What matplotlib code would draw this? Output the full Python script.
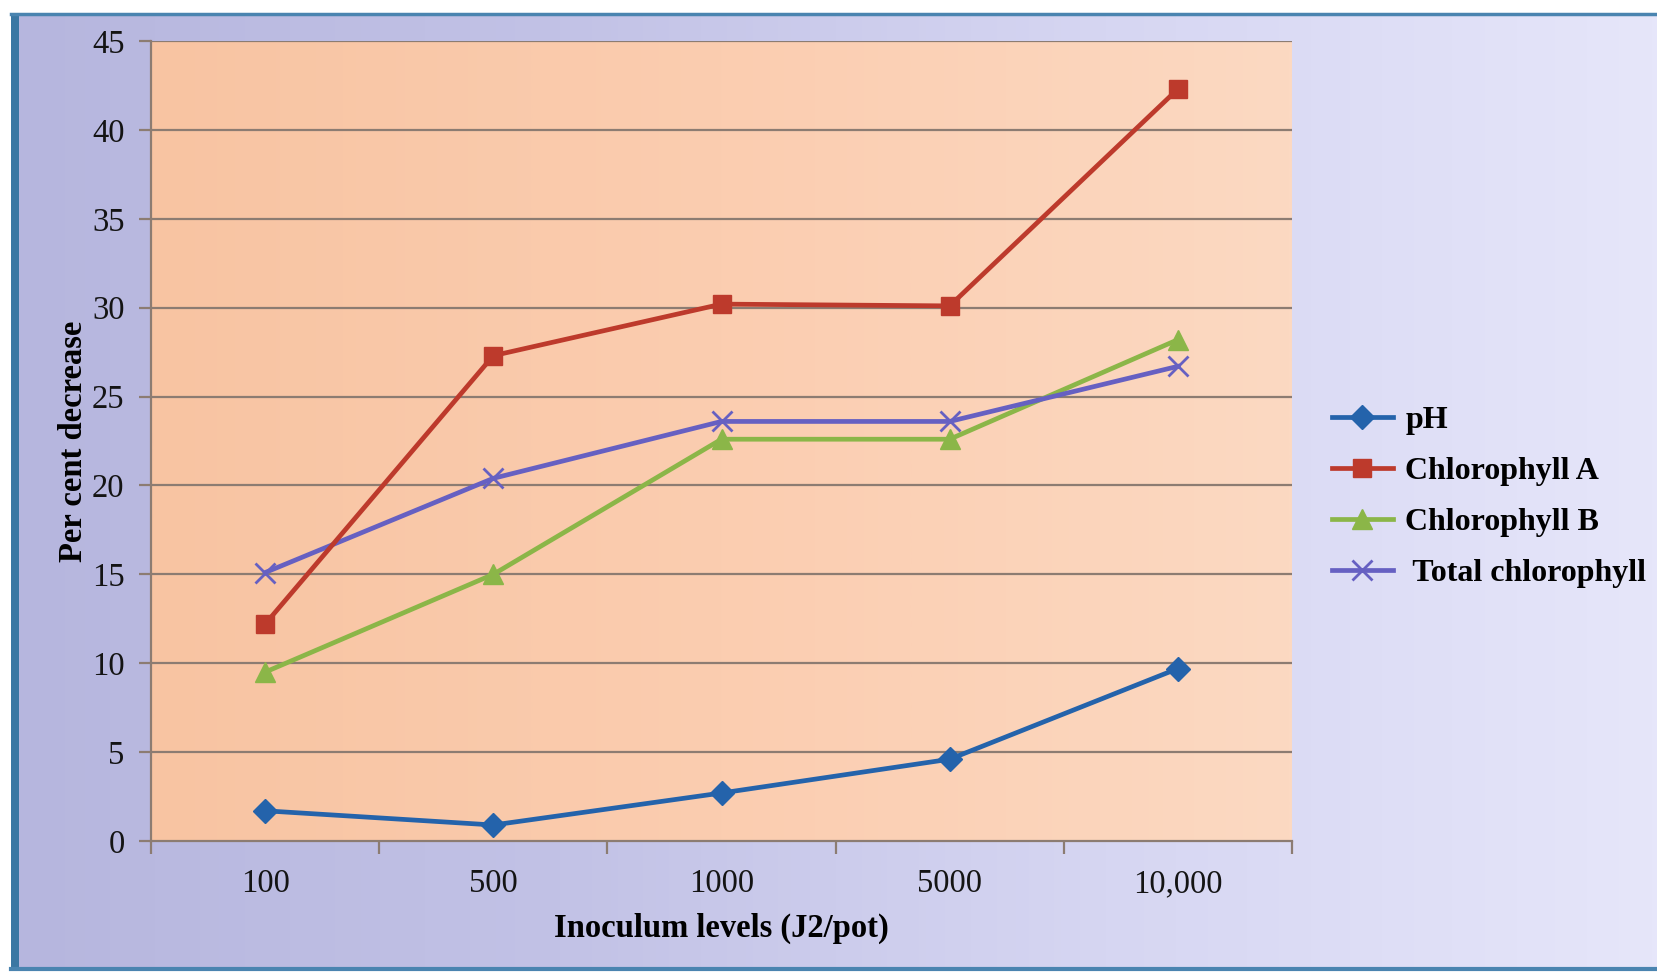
import numpy as np
import matplotlib.pyplot as plt
from matplotlib.patches import Rectangle
from matplotlib.colors import LinearSegmentedColormap

categories = ["100", "500", "1000", "5000", "10,000"]
ph = [1.7, 0.9, 2.7, 4.6, 9.7]
chlorophyll_a = [12.2, 27.3, 30.2, 30.1, 42.3]
chlorophyll_b = [9.5, 15.0, 22.6, 22.6, 28.2]
total_chlorophyll = [15.1, 20.4, 23.6, 23.6, 26.7]

plt.rcParams['font.family'] = ['Liberation Serif', 'DejaVu Serif']

W, H = 1658, 975
fig = plt.figure(figsize=(W / 100, H / 100), dpi=100)
fig.patch.set_facecolor('white')

# Lavender chart-area background with a left-to-right fade
bg = fig.add_axes([0, 0, 1, 1], zorder=0)
bg.set_xlim(0, W)
bg.set_ylim(H, 0)
bg.axis('off')
bg_cmap = LinearSegmentedColormap.from_list('bg', ['#b6b6de', '#c2c2e6', '#d6d6f2', '#e6e6fa'])
grad = np.linspace(0, 1, 512)[None, :]
bg.imshow(grad, cmap=bg_cmap, extent=[14, W, 969, 14], aspect='auto', zorder=1)
# frame lines
bg.add_patch(Rectangle((11, 14), 8, 956, facecolor='#3b77a3', edgecolor='none', zorder=2))
bg.plot([11, W], [14, 14], color='#4a84b0', lw=2.5, zorder=2)
bg.plot([11, W], [969, 969], color='#4a84b0', lw=3, zorder=2)

ax = fig.add_axes([151 / W, 1 - 841 / H, (1292 - 151) / W, (841 - 41) / H], zorder=2)
ax.set_xlim(0, 5)
ax.set_ylim(0, 45)

# Peach plot-area fill, slightly lighter to the right
pa_cmap = LinearSegmentedColormap.from_list('pa', ['#f8c4a2', '#fbcdb0', '#fcd9c2'])
ax.imshow(grad, cmap=pa_cmap, extent=[0, 5, 0, 45], aspect='auto', zorder=0)
ax.set_facecolor('none')

for y in range(5, 50, 5):
    ax.axhline(y, color='#8c7c72', lw=1.6, zorder=1)

x = np.arange(len(categories)) + 0.5
ax.plot(x, ph, color='#2463ab', lw=3.4, marker='D', ms=12, label='pH', zorder=5)
ax.plot(x, chlorophyll_a, color='#bd3a2c', lw=3.4, marker='s', ms=13, label='Chlorophyll A', zorder=4)
ax.plot(x, chlorophyll_b, color='#8bb648', lw=3.4, marker='^', ms=14, label='Chlorophyll B', zorder=3)
ax.plot(x, total_chlorophyll, color='#6660c2', lw=3.4, marker='x', ms=15, mew=2,
        label=' Total chlorophyll', zorder=3)

for s in ['top', 'right']:
    ax.spines[s].set_visible(False)
for s in ['left', 'bottom']:
    ax.spines[s].set_color('#8c7c72')
    ax.spines[s].set_linewidth(1.6)

ax.set_yticks(range(0, 50, 5))
ax.set_xticks(np.arange(0, 6))
ax.set_xticklabels([])
ax.set_xticks(x, minor=True)
ax.set_xticklabels(categories, minor=True)
ax.tick_params(axis='x', which='major', length=9, width=1.6, color='#8c7c72', direction='out')
ax.tick_params(axis='x', which='minor', length=0, labelsize=23.5, pad=20, colors='#141414')
ax.tick_params(axis='y', length=9, width=1.6, color='#8c7c72', labelsize=23.5, pad=10,
               labelcolor='#141414')

ax.set_xlabel('Inoculum levels (J2/pot)', fontsize=23.5, fontweight='bold', labelpad=10)
ax.set_ylabel('Per cent decrease', fontsize=23.5, fontweight='bold', labelpad=2)

leg = ax.legend(loc='center left', bbox_to_anchor=(1332 / W, 1 - 497 / H),
                bbox_transform=fig.transFigure, frameon=False,
                prop={'size': 23, 'weight': 'bold'}, handlelength=1.9, labelspacing=0.68,
                handletextpad=0.4, borderpad=0, borderaxespad=0)

fig.savefig('out.png', dpi=100)
